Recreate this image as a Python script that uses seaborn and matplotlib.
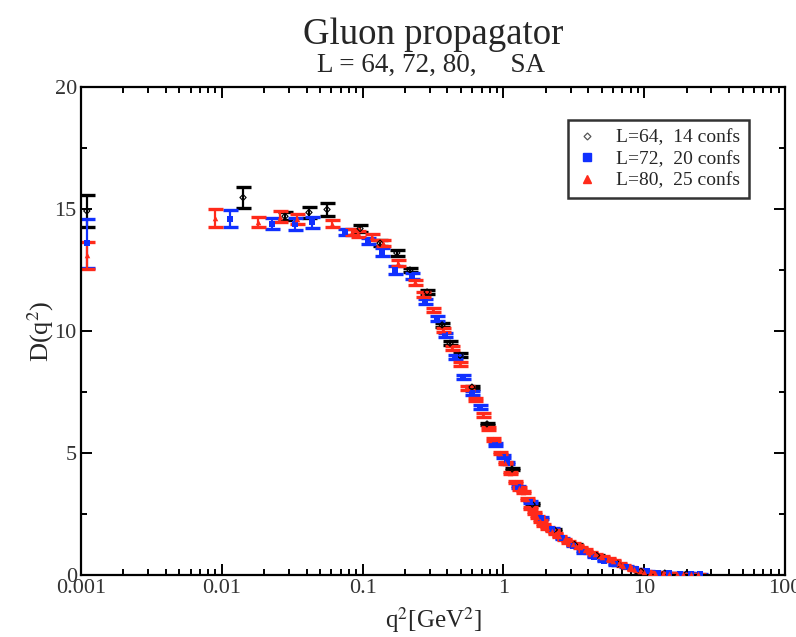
import numpy as np
import pandas as pd
import matplotlib
matplotlib.use("Agg")
import matplotlib.pyplot as plt
import seaborn as sns
from matplotlib.ticker import LogLocator, MultipleLocator, FixedLocator, NullFormatter
from matplotlib.lines import Line2D

# ---------------- data ----------------
labels = ["L=64,  14 confs", "L=72,  20 confs", "L=80,  25 confs"]

q2_L64 = [0.0011, 0.01415, 0.0281, 0.0416, 0.0559, 0.0959, 0.133, 0.175, 0.217, 0.287,
          0.367, 0.418, 0.492, 0.598, 0.765, 1.15, 1.6, 2.3, 3.2, 4.6, 6.5, 9.5, 14.0, 20.0]
D_L64 = [14.92, 15.47, 14.7, 14.86, 14.98, 14.2, 13.6, 13.2, 12.5, 11.6,
         10.25, 9.5, 9.0, 7.7, 6.19, 4.34, 2.9, 1.85, 1.25, 0.8, 0.45, 0.15, 0.08, 0.05]
err_L64 = [0.65, 0.43, 0.16, 0.22, 0.27, 0.15, 0.12, 0.12, 0.1, 0.1,
           0.08, 0.08, 0.08, 0.06, 0.06, 0.05, 0.04, 0.03, 0.03, 0.02, 0.02, 0.02, 0.02, 0.02]

q2_L72 = [0.0011, 0.0114, 0.0227, 0.0331, 0.0437, 0.075, 0.109, 0.137, 0.170, 0.224,
          0.277, 0.338, 0.385, 0.453, 0.517, 0.598, 0.682, 0.871, 0.994, 1.06,
          1.27, 1.55, 1.85, 2.2, 2.6, 3.1, 3.7, 4.4, 5.2, 6.2,
          7.4, 8.8, 10.5, 12.5, 15.0, 18.0, 21.5, 25.0]
D_L72 = [13.6, 14.6, 14.4, 14.38, 14.45, 14.05, 13.69, 13.24, 12.5, 12.25,
         11.2, 10.53, 9.84, 8.93, 8.11, 7.46, 6.89, 5.33, 4.84, 4.59,
         3.6, 3.0, 2.35, 1.9, 1.5, 1.2, 0.95, 0.75, 0.58, 0.45,
         0.33, 0.23, 0.15, 0.1, 0.08, 0.06, 0.05, 0.04]
err_L72 = [1.0, 0.35, 0.22, 0.25, 0.22, 0.12, 0.12, 0.15, 0.15, 0.12,
           0.1, 0.1, 0.08, 0.08, 0.08, 0.07, 0.07, 0.06, 0.06, 0.05,
           0.05, 0.04, 0.04, 0.04, 0.03, 0.03, 0.03, 0.03, 0.02, 0.02,
           0.02, 0.02, 0.02, 0.02, 0.02, 0.02, 0.02, 0.02]

q2_L80 = [0.0011, 0.00895, 0.0181, 0.0259, 0.0342, 0.0606, 0.0841, 0.0927, 0.117, 0.140,
          0.178, 0.236, 0.268, 0.316, 0.372, 0.431, 0.492, 0.551, 0.628, 0.716,
          0.778, 0.844, 0.946, 1.03, 1.11, 1.21, 1.30, 1.38, 1.46, 1.55,
          1.64, 1.73, 1.82, 1.91, 2.05, 2.2, 2.32, 2.5, 2.7, 2.88,
          3.1, 3.3, 3.5, 3.8, 4.15, 4.5, 5.0, 5.5, 6.0, 6.6,
          7.1, 7.8, 8.5, 9.3, 10.0, 11.0, 12.0, 13.5, 15.0, 17.0,
          19.0, 21.5, 24.0]
D_L80 = [13.1, 14.63, 14.47, 14.69, 14.59, 14.4, 14.05, 13.97, 13.85, 13.6,
         12.8, 12.0, 11.48, 10.86, 10.04, 9.3, 8.65, 7.66, 7.2, 6.56,
         6.02, 5.57, 5.0, 4.6, 4.18, 3.81, 3.55, 3.4, 3.1, 2.75,
         2.55, 2.38, 2.2, 2.05, 1.93, 1.82, 1.7, 1.58, 1.45, 1.36,
         1.27, 1.2, 1.13, 1.03, 0.94, 0.85, 0.75, 0.66, 0.58, 0.48,
         0.38, 0.3, 0.24, 0.18, 0.13, 0.1, 0.09, 0.07, 0.06, 0.05,
         0.04, 0.04, 0.03]
err_L80 = [0.55, 0.35, 0.2, 0.22, 0.2, 0.15, 0.12, 0.12, 0.12, 0.12,
           0.12, 0.1, 0.1, 0.1, 0.08, 0.08, 0.08, 0.07, 0.07, 0.07,
           0.06, 0.06, 0.06, 0.05, 0.05, 0.05, 0.05, 0.05, 0.04, 0.04,
           0.04, 0.04, 0.04, 0.04, 0.03, 0.03, 0.03, 0.03, 0.03, 0.03,
           0.03, 0.03, 0.03, 0.03, 0.02, 0.02, 0.02, 0.02, 0.02, 0.02,
           0.02, 0.02, 0.02, 0.02, 0.02, 0.02, 0.02, 0.02, 0.02, 0.02,
           0.02, 0.02, 0.02]

x_ticks = [0.001, 0.01, 0.1, 1, 10, 100]
x_ticklabels = ["0.001", "0.01", "0.1", "1", "10", "100"]
y_ticks = [0, 5, 10, 15, 20]

# ---------------- style ----------------
sns.set_style("ticks")
plt.rcParams["font.family"] = ["Liberation Serif", "DejaVu Serif"]
plt.rcParams["mathtext.fontset"] = "stix"

series = [
    (labels[0], q2_L64, D_L64, err_L64, "black", "D"),
    (labels[1], q2_L72, D_L72, err_L72, "#1030ff", "s"),
    (labels[2], q2_L80, D_L80, err_L80, "#ff2a1a", "^"),
]

fig = plt.figure(figsize=(7.96, 6.37), dpi=100)
ax = fig.add_axes([81 / 796, 62 / 637, 704 / 796, 488 / 637])

for lab, x, y, e, col, mk in series:
    df = pd.DataFrame({"q2": x, "D": y, "err": e})
    ax.errorbar(df["q2"], df["D"], yerr=df["err"], fmt="none", ecolor=col,
                elinewidth=1.6, capsize=5.4, capthick=2.4, zorder=2)
    if mk == "D":
        sns.scatterplot(data=df, x="q2", y="D", marker="D", s=10, color=col,
                        linewidth=0.8, ax=ax, zorder=3, legend=False)
        pc = ax.collections[-1]
        pc.set_facecolor("none")
        pc.set_edgecolor(col)
    else:
        sns.scatterplot(data=df, x="q2", y="D", marker=mk, s=16, color=col,
                        linewidth=0, ax=ax, zorder=3, legend=False)

ax.set_xscale("log")
ax.set_xlim(0.001, 100)
ax.set_ylim(0, 20)
ax.xaxis.set_major_locator(FixedLocator(x_ticks))
ax.set_xticklabels(x_ticklabels)
ax.xaxis.set_minor_locator(LogLocator(base=10, subs=np.arange(2, 10), numticks=20))
ax.xaxis.set_minor_formatter(NullFormatter())
ax.yaxis.set_major_locator(FixedLocator(y_ticks))
ax.yaxis.set_minor_locator(MultipleLocator(2.5))

for s in ax.spines.values():
    s.set_linewidth(1.6)
    s.set_color("black")
ax.tick_params(which="both", direction="in", top=True, right=True, color="black",
               width=1.4)
ax.tick_params(which="major", length=8, labelsize=16, pad=3, labelcolor="#333333")
ax.tick_params(which="minor", length=4.5)

ax.set_xlabel(r"q$^2$[GeV$^2$]", fontsize=18, labelpad=5)
ax.set_ylabel(r"D(q$^2$)", fontsize=19, labelpad=-1)

fig.text(433 / 796, 1 - 35 / 637, "Gluon propagator", ha="center", va="center", fontsize=26.5)
fig.text(431 / 796, 1 - 65 / 637, "L = 64, 72, 80,     SA", ha="center", va="center", fontsize=19.5)

handles = [
    Line2D([], [], linestyle="none", marker="D", markersize=3.5, markerfacecolor="none",
           markeredgecolor="#555555", markeredgewidth=0.9),
    Line2D([], [], linestyle="none", marker="s", markersize=6, color="#1030ff"),
    Line2D([], [], linestyle="none", marker="^", markersize=5.5, color="#ff2a1a"),
]
leg = ax.legend(handles, labels, loc="upper right", bbox_to_anchor=((749 - 81) / 704, (575 - 120) / 488),
                frameon=True, fancybox=False, fontsize=14, handlelength=1.0, handletextpad=1.0,
                borderpad=0.45, labelspacing=0.2, borderaxespad=0)
leg.get_frame().set_edgecolor("black")
leg.get_frame().set_linewidth(1.8)

fig.savefig("out.png", dpi=100)
